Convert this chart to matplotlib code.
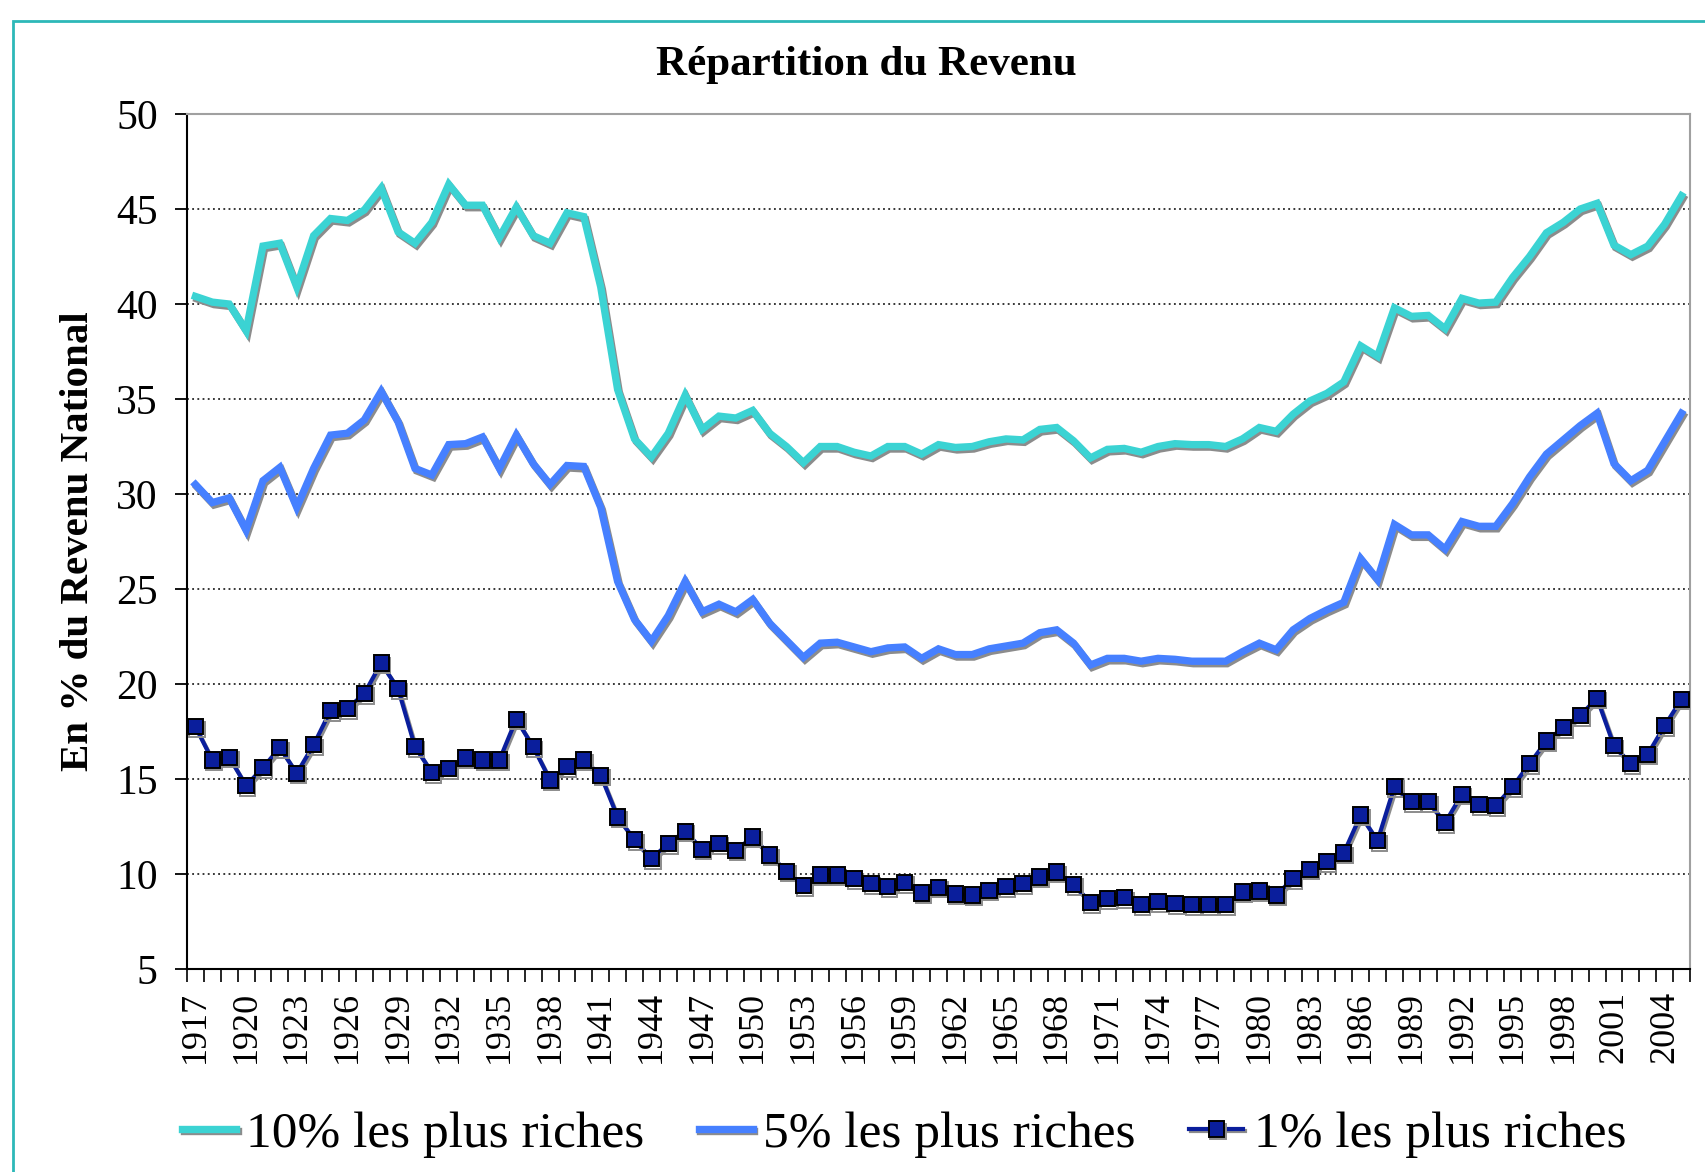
import numpy as np
import matplotlib
matplotlib.use("Agg")
import matplotlib.pyplot as plt
import matplotlib.patheffects as pe
from matplotlib.patches import Rectangle

years = list(range(1917, 2006))

# part du revenu national (%) - 10% les plus riches
top10 = [40.4, 40.1, 40.0, 38.6, 43.05, 43.2, 40.9, 43.6, 44.5, 44.4,   # 1917-1926
         44.95, 46.1, 43.8, 43.2, 44.3, 46.3, 45.2, 45.2, 43.5, 45.1,   # 1927-1936
         43.6, 43.2, 44.8, 44.6, 40.9, 35.5, 32.9, 31.95, 33.2, 35.2,   # 1937-1946
         33.4, 34.1, 34.0, 34.4, 33.2, 32.5, 31.65, 32.5, 32.5, 32.2,   # 1947-1956
         32.0, 32.5, 32.5, 32.1, 32.6, 32.45, 32.5, 32.75, 32.9, 32.85, # 1957-1966
         33.4, 33.5, 32.8, 31.9, 32.35, 32.4, 32.2, 32.5, 32.65, 32.6,  # 1967-1976
         32.6, 32.5, 32.9, 33.5, 33.3, 34.2, 34.9, 35.3, 35.9, 37.8,    # 1977-1986
         37.25, 39.8, 39.35, 39.4, 38.7, 40.3, 40.05, 40.1, 41.4, 42.5, # 1987-1996
         43.75, 44.3, 45.0, 45.3, 43.1, 42.6, 43.05, 44.2, 45.7]        # 1997-2005

# 5% les plus riches
top5 = [30.5, 29.55, 29.8, 28.1, 30.7, 31.4, 29.3, 31.35, 33.1, 33.2,
        33.9, 35.4, 33.8, 31.35, 31.0, 32.6, 32.65, 33.0, 31.35, 33.1,
        31.6, 30.5, 31.5, 31.45, 29.3, 25.4, 23.4, 22.25, 23.6, 25.4,
        23.8, 24.2, 23.8, 24.45, 23.2, 22.3, 21.4, 22.15, 22.2, 21.95,
        21.7, 21.9, 21.95, 21.35, 21.85, 21.55, 21.55, 21.85, 22.0, 22.15,
        22.7, 22.85, 22.15, 21.0, 21.35, 21.35, 21.2, 21.35, 21.3, 21.2,
        21.2, 21.2, 21.7, 22.15, 21.8, 22.85, 23.45, 23.9, 24.3, 26.6,
        25.5, 28.4, 27.85, 27.85, 27.1, 28.55, 28.3, 28.3, 29.5, 30.9,
        32.1, 32.85, 33.6, 34.25, 31.6, 30.7, 31.25, 32.75, 34.25]

# 1% les plus riches
top1 = [17.75, 16.0, 16.15, 14.65, 15.6, 16.65, 15.3, 16.8, 18.6, 18.7,
        19.5, 21.1, 19.75, 16.7, 15.35, 15.55, 16.1, 16.0, 16.0, 18.15,
        16.7, 14.95, 15.65, 16.0, 15.2, 13.0, 11.8, 10.8, 11.6, 12.25,
        11.3, 11.6, 11.25, 11.95, 11.0, 10.15, 9.4, 9.95, 9.95, 9.75,
        9.5, 9.35, 9.55, 9.0, 9.3, 8.95, 8.9, 9.15, 9.35, 9.5,
        9.85, 10.1, 9.45, 8.5, 8.7, 8.75, 8.4, 8.55, 8.45, 8.4,
        8.4, 8.4, 9.05, 9.1, 8.9, 9.75, 10.25, 10.65, 11.1, 13.1,
        11.75, 14.6, 13.8, 13.8, 12.7, 14.2, 13.65, 13.6, 14.6, 15.8,
        17.0, 17.7, 18.35, 19.25, 16.75, 15.8, 16.3, 17.8, 19.2]

labels = ["10% les plus riches", "5% les plus riches", "1% les plus riches"]
yticks = [5, 10, 15, 20, 25, 30, 35, 40, 45, 50]

plt.rcParams['font.family'] = ['Liberation Serif', 'DejaVu Serif']

fig = plt.figure(figsize=(17.06, 11.72), dpi=100)
ax = fig.add_axes([0.1096, 0.1732, 0.881, 0.7295])

x = np.arange(len(years))
shadow = [pe.SimpleLineShadow(offset=(1.2, -1.8), shadow_color='#8c8c8c', alpha=1.0), pe.Normal()]

ax.plot(x, top10, color='#3BD3D3', lw=5.3, solid_joinstyle='miter', label=labels[0], path_effects=shadow, zorder=3)
ax.plot(x, top5, color='#4680FF', lw=5.3, solid_joinstyle='miter', label=labels[1], path_effects=shadow, zorder=3)
ax.plot(x, top1, color='#0A1E9C', lw=3.0, marker='s', markersize=11, markeredgecolor='black',
        markeredgewidth=1.4, label=labels[2], path_effects=shadow, zorder=4)

ax.set_xlim(-0.5, len(years) - 0.5)
ax.set_ylim(5, 50)
ax.set_yticks(yticks)
ax.tick_params(axis='y', labelsize=30, length=9, width=1.3, direction='out', pad=12)
ax.yaxis.grid(True, linestyle=(0, (1.2, 2.2)), color='black', linewidth=1.1)
ax.set_axisbelow(True)

# categories: tick marks between the years, label every 3 years
ax.set_xticks(np.arange(-0.5, len(years)), minor=True)
ax.set_xticks(x[::3])
ax.set_xticklabels([str(y) for y in years[::3]], rotation=90, fontsize=26)
ax.tick_params(axis='x', which='major', length=0, pad=16)
ax.tick_params(axis='x', which='minor', length=9, width=1.2, direction='out')

for s in ['left', 'bottom']:
    ax.spines[s].set_color('black')
    ax.spines[s].set_linewidth(1.5)
for s in ['top', 'right']:
    ax.spines[s].set_color('#a0a0a0')
    ax.spines[s].set_linewidth(1.5)

ax.set_ylabel("En % du Revenu National", fontsize=29.5, fontweight='bold', labelpad=14)
fig.text(0.508, 0.9445, "Répartition du Revenu", fontsize=31, fontweight='bold', ha='center', va='center')

fig.legend(loc='center', bbox_to_anchor=(0.53, 0.032), ncol=3, frameon=False, fontsize=37,
           handlelength=1.05, handletextpad=0.2, columnspacing=1.05, numpoints=1)

fig.add_artist(Rectangle((0.0076, -0.02), 1.05, 0.012 + 0.99, transform=fig.transFigure,
                         fill=False, edgecolor='#2DB8B8', linewidth=2))

fig.savefig("out.png", dpi=100, facecolor='white')
